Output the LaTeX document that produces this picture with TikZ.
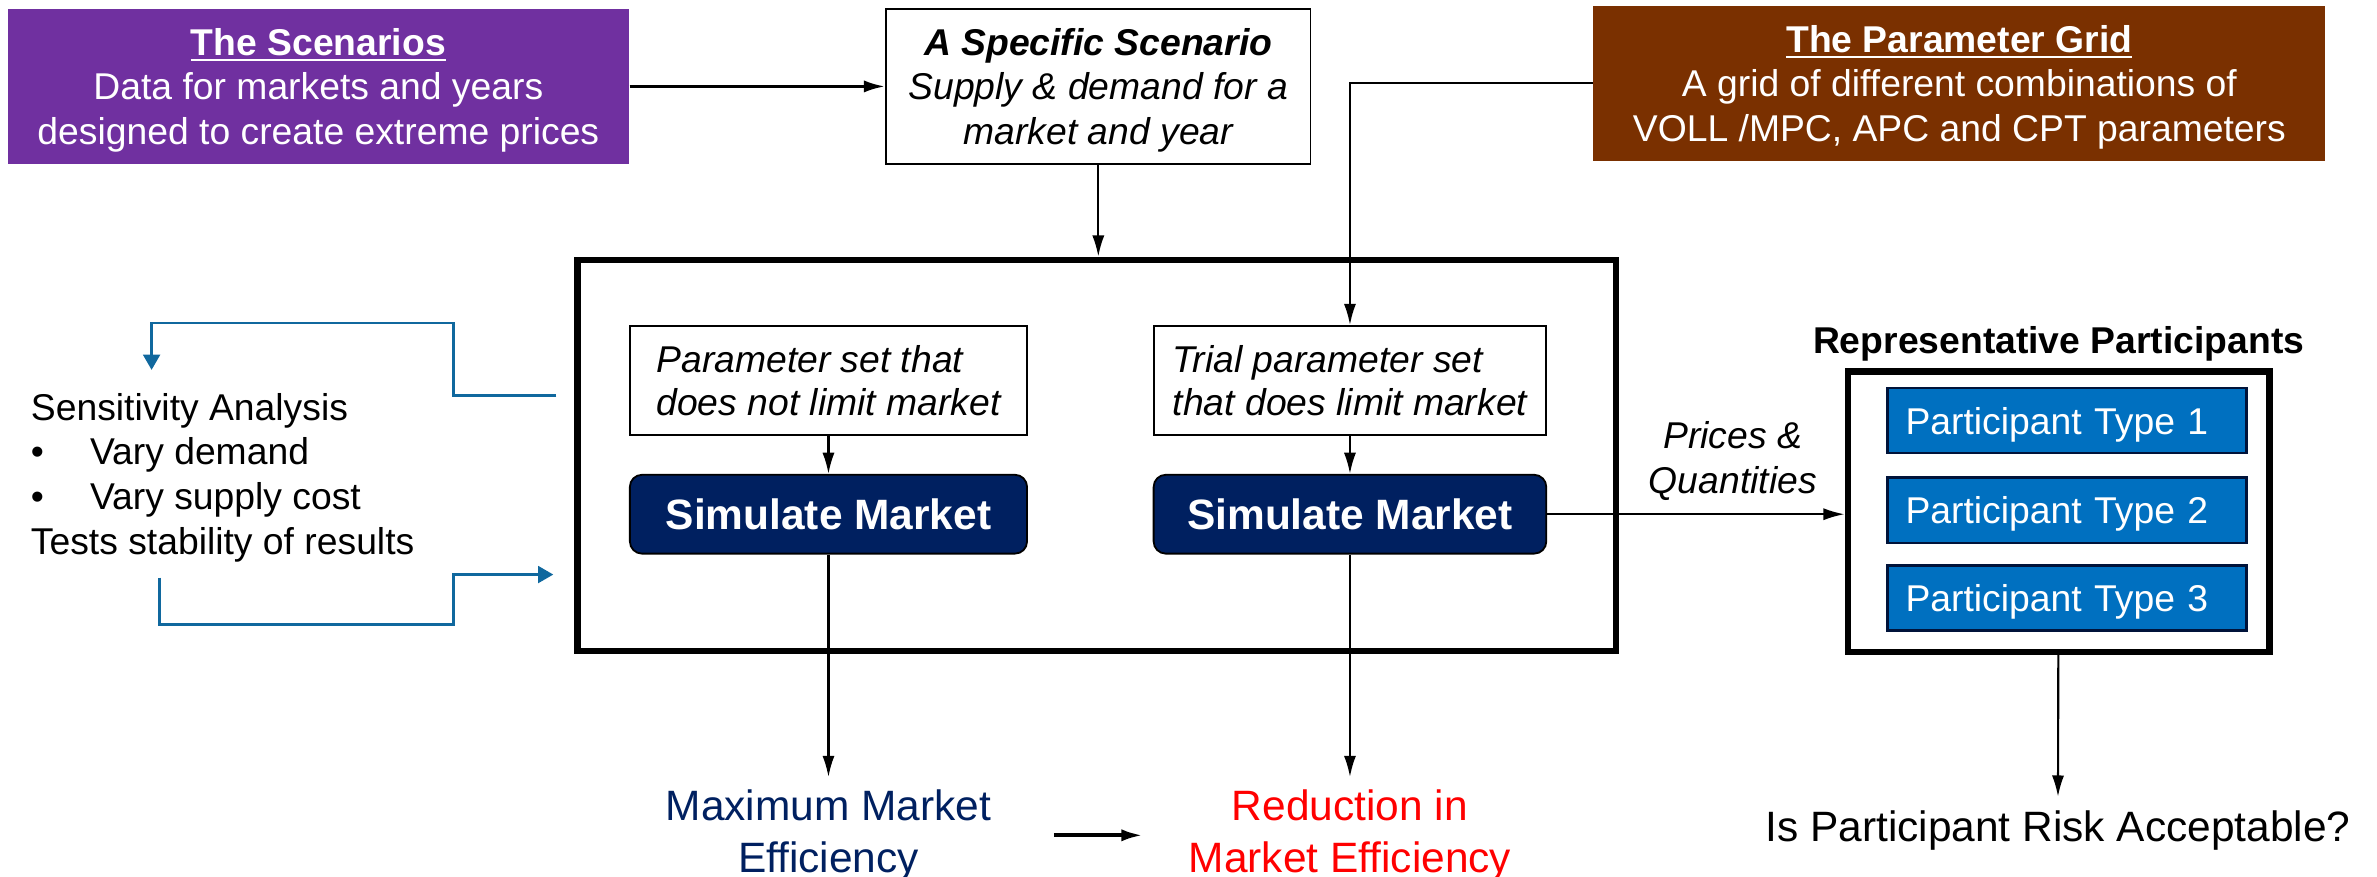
\documentclass[tikz,border=0pt]{standalone}
\usepackage{fontspec}
\setmainfont{Liberation Sans}
\usetikzlibrary{arrows.meta, positioning}
\definecolor{scenpurple}{HTML}{7030A0}
\definecolor{gridbrown}{RGB}{122,48,0}
\definecolor{simnavy}{HTML}{002060}
\definecolor{partblue}{HTML}{0070C0}
\definecolor{loopblue}{RGB}{16,104,158}
\tikzset{
  topbox/.style={
    rectangle, minimum height=51pt, inner sep=2pt, text depth=0pt, align=center
  },
  parambox/.style={
    rectangle, draw=black, line width=0.6pt, minimum height=36pt, align=left,
    font=\fontsize{12.3}{14}\selectfont\itshape
  },
  simbox/.style={
    rectangle, rounded corners=4pt, draw=black, line width=0.6pt, fill=simnavy,
    text=white, minimum height=26pt, font=\fontsize{14}{16}\selectfont\bfseries
  },
  ptbox/.style={
    rectangle, draw=simnavy!60!black, line width=0.8pt, fill=partblue, text=white,
    minimum width=118.5pt, minimum height=21.5pt, text width=106.5pt,
    text depth=0pt, inner xsep=6pt, align=left
  },
  result/.style={
    align=center, inner xsep=0pt, inner ysep=4pt, font=\fontsize{14}{17}\selectfont
  }
}

\begin{document}
\begin{tikzpicture}[
  x=0.5pt, y=-0.5pt,
  every node/.style={font=\fontsize{12.3}{14.7}\selectfont},
  frame/.style={draw=black, line width=2.2pt, rectangle},
  arrow/.style={-{Latex[length=7pt, width=4pt]}, line width=0.7pt},
  looparrow/.style={-{Triangle[length=5pt, width=5.5pt]}, line width=0.9pt, draw=loopblue}
]
\useasboundingbox (0,0) rectangle (1568,578);

% Top row
\node[topbox, fill=scenpurple, text=white, minimum width=205pt] (scen) at (210,57)
  {\underline{\textbf{The Scenarios}}\\Data for markets and years\\designed to create extreme prices};
\node[topbox, draw=black, line width=0.6pt, minimum width=140pt,
  font=\fontsize{12.3}{14.7}\selectfont\itshape] (spec) at (724.5,57)
  {\textbf{A Specific Scenario}\\Supply \& demand for a\\market and year};
\node[topbox, fill=gridbrown, text=white, minimum width=241.5pt] (grid) at (1292.5,55)
  {\underline{\textbf{The Parameter Grid}}\\A grid of different combinations of\\VOLL /MPC, APC and CPT parameters};

% Market simulation frame
\node[frame, minimum width=342.5pt, minimum height=129pt] (market) at (723.5,300.5) {};
\node[parambox, minimum width=131pt] (par1) at (546.5,251) {Parameter set that\\does not limit market};
\node[simbox, minimum width=131pt, below=12.5pt of par1] (sim1) {Simulate Market};
\node[parambox, minimum width=129.5pt] (par2) at (890.5,251) {Trial parameter set\\that does limit market};
\node[simbox, minimum width=129.5pt, below=12.5pt of par2] (sim2) {Simulate Market};

% Results
\node[result, text=simnavy] (maxeff) at (546.5,551) {Maximum Market\\Efficiency};
\node[result, text=red] (redeff) at (890.5,551) {Reduction in\\Market Efficiency};

% Participants
\node[frame, minimum width=139pt, minimum height=92.5pt] (parts) at (1358,337.5) {};
\node[font=\fontsize{12.3}{14.7}\selectfont\bfseries] (partstitle) at (1358,227) {Representative Participants};
\node[ptbox] (pt1) at (1363.5,277.5) {Participant Type 1};
\node[ptbox] (pt2) at (1363.5,336.5) {Participant Type 2};
\node[ptbox] (pt3) at (1363.5,394.5) {Participant Type 3};
\node[align=center, font=\fontsize{12.3}{15}\selectfont\itshape] (pq) at (1143,304) {Prices \&\\Quantities};
\node[inner ysep=4.5pt, font=\fontsize{14}{17}\selectfont] (risk) at (1357.5,548) {Is Participant Risk Acceptable?};

% Sensitivity analysis
\node[anchor=west, align=left, inner sep=0pt] (sens) at (20,315)
  {Sensitivity Analysis\\
   \makebox[19.5pt][l]{\textbullet}Vary demand\\
   \makebox[19.5pt][l]{\textbullet}Vary supply cost\\
   Tests stability of results};
\coordinate (loopA) at (367,261);
\coordinate (loopB) at (100,244);
\coordinate (loopC) at (105,381);
\coordinate (loopD) at (365,379);

% Arrows
\draw[arrow, line width=1pt] (scen.east) -- (scen.east -| spec.west);
\draw[arrow] (spec.south) -- (spec.south |- market.north);
\draw[arrow] (grid.west) -| (par2.north);
\draw[arrow] (par1) -- (sim1);
\draw[arrow] (par2) -- (sim2);
\draw[arrow] (sim1) -- (maxeff);
\draw[arrow] (sim2) -- (redeff);
\draw[arrow, line width=1.2pt, shorten <=20.5pt, shorten >=15pt] (maxeff) -- (redeff);
\draw[arrow] (sim2.east) -- (sim2.east -| parts.west);
\draw[arrow] (parts) -- (risk);
\draw[looparrow] (loopA) -- (299,261) |- (100,213) -- (loopB);
\draw[looparrow] (loopC) |- (299,412) |- (loopD);

\end{tikzpicture}
\end{document}
